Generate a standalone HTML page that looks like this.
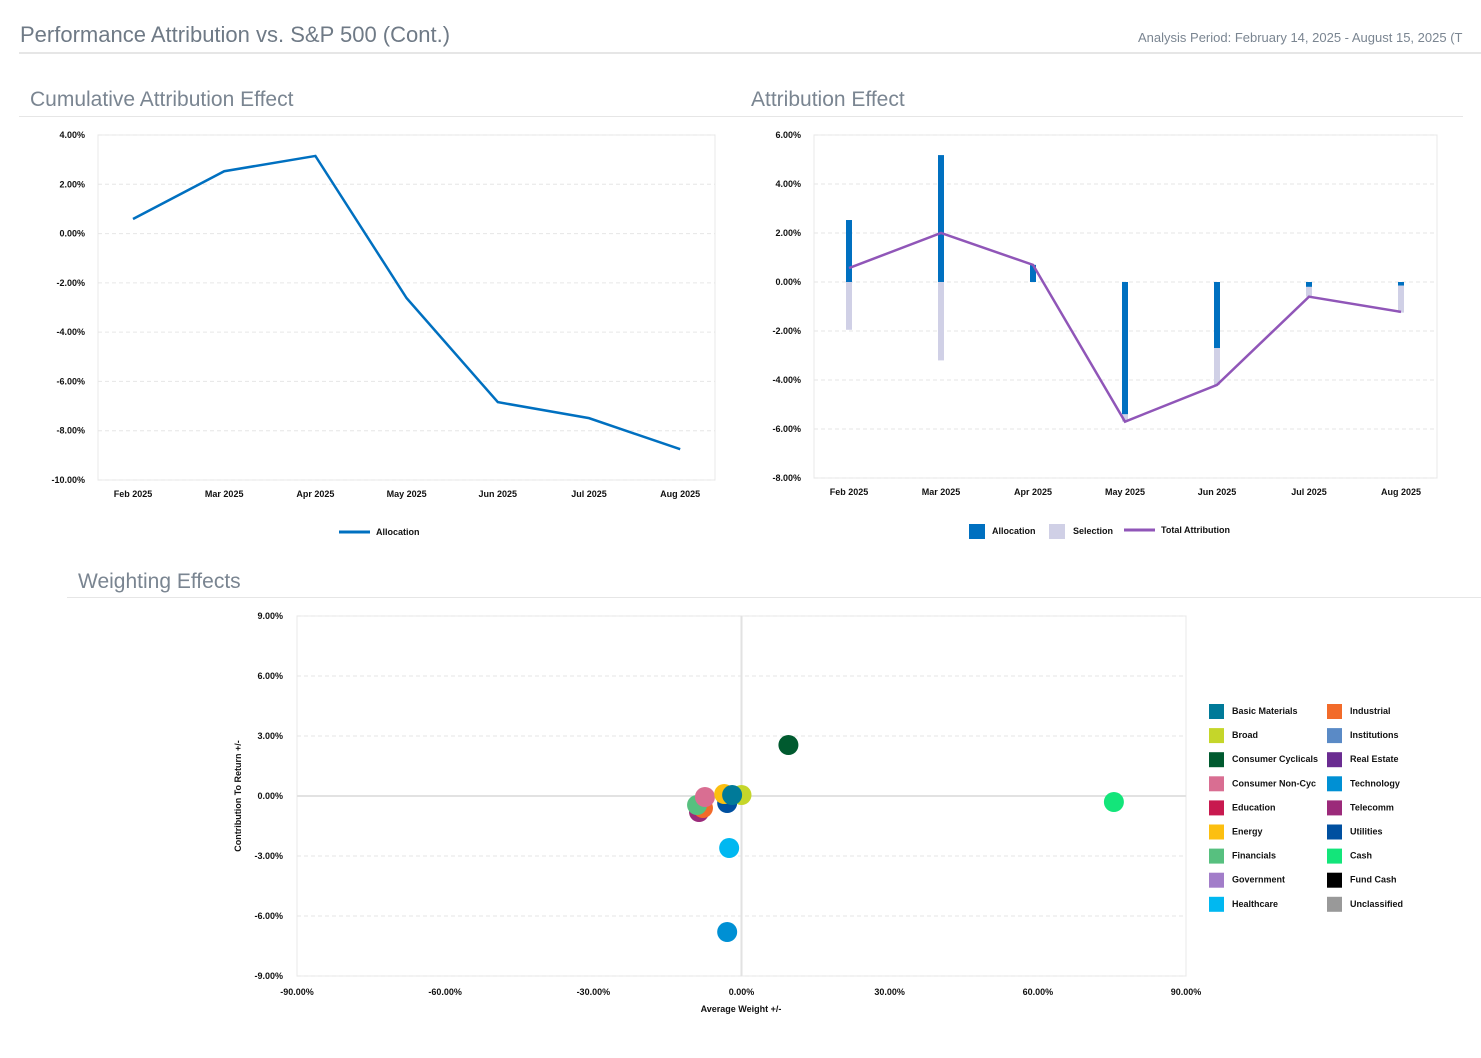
<!DOCTYPE html>
<html><head><meta charset="utf-8"><style>
body{margin:0;background:#fff;width:1481px;height:1053px;overflow:hidden;font-family:"Liberation Sans",sans-serif}
svg text{font-family:"Liberation Sans",sans-serif}
.t{font-size:9px;font-weight:bold;fill:#111}
</style></head><body>
<svg id="s" width="1481" height="1053" xmlns="http://www.w3.org/2000/svg">
<text x="20" y="42" font-size="22" fill="#6f7a86">Performance Attribution vs. S&amp;P 500 (Cont.)</text>
<text x="1138" y="42" font-size="13" fill="#7a8591">Analysis Period: February 14, 2025 - August 15, 2025 (T</text>
<rect x="19" y="52" width="1462" height="2" fill="#e6e6e6"/>
<text x="30" y="106" font-size="21" fill="#7a8591">Cumulative Attribution Effect</text>
<rect x="19" y="116" width="722" height="1" fill="#e6e6e6"/>
<text x="751" y="106" font-size="21" fill="#7a8591">Attribution Effect</text>
<rect x="741" y="116" width="722" height="1" fill="#e6e6e6"/>
<text x="78" y="588" font-size="21" fill="#7a8591">Weighting Effects</text>
<rect x="67" y="597" width="1414" height="1" fill="#e6e6e6"/>
<g id="c1"></g>
<g id="c2"></g>
<g id="c3"></g>
</svg>
<script>
const months=["Feb 2025","Mar 2025","Apr 2025","May 2025","Jun 2025","Jul 2025","Aug 2025"];
const cumAlloc=[0.59,2.53,3.15,-2.62,-6.84,-7.49,-8.75];
const cumTicks=[4,2,0,-2,-4,-6,-8,-10];
const allocation=[2.53,5.18,0.7,-5.4,-2.7,-0.2,-0.15];
const selection=[-1.95,-3.2,0,-0.3,-1.5,-0.4,-1.1];
const totalAttr=[0.57,2.0,0.7,-5.7,-4.2,-0.6,-1.22];
const attrTicks=[6,4,2,0,-2,-4,-6,-8];
const sectors=["Basic Materials","Broad","Consumer Cyclicals","Consumer Non-Cyc","Education","Energy","Financials","Government","Healthcare","Industrial","Institutions","Real Estate","Technology","Telecomm","Utilities","Cash","Fund Cash","Unclassified"];
const sectorColors=["#007a99","#c5d62a","#005a2f","#d96e92","#c8194f","#fcbf10","#57c07f","#a27dc9","#00b8f1","#f26b2a","#5a8ac6","#6a2c91","#0090d4","#9b2a7a","#0050a0","#13e57a","#000000","#999999"];
const weightX=[-1.9,0,9.5,-7.4,null,-3.5,-9,null,-2.5,-7.8,null,null,-2.9,-8.6,-2.9,75.4,null,null];
const contribY=[0.05,0.05,2.55,-0.05,null,0.1,-0.45,null,-2.6,-0.6,null,null,-6.8,-0.8,-0.35,-0.3,null,null];
const xTicks=[-90,-60,-30,0,30,60,90];
const yTicks=[9,6,3,0,-3,-6,-9];
const NS="http://www.w3.org/2000/svg";
function mk(p,tag,a,txt){const e=document.createElementNS(NS,tag);for(const k in a)e.setAttribute(k,a[k]);if(txt!==undefined)e.textContent=txt;p.appendChild(e);return e;}
function pct(v){return v.toFixed(2)+"%";}
// chart 1
(function(){
const g=document.getElementById('c1');const L=98,R=715,T=135,B=480;
const y=v=>T+(4-v)/14*(B-T);const x=i=>133+i*91.2;
const fr=mk(g,'rect',{x:L,y:T,width:R-L,height:B-T,fill:'none',stroke:'#e8e8e8'});

cumTicks.forEach(v=>{const l=mk(g,'line',{x1:L,x2:R,y1:y(v),y2:y(v),stroke:'#e6e6e6','stroke-dasharray':'4,3'});

const t=mk(g,'text',{x:85,y:y(v)+3,'text-anchor':'end',class:'t'},pct(v));
});
months.forEach((m,i)=>{const t=mk(g,'text',{x:x(i),y:497,'text-anchor':'middle',class:'t'},m);
});
const p=mk(g,'polyline',{points:cumAlloc.map((v,i)=>x(i)+','+y(v)).join(' '),fill:'none',stroke:'#0070c0','stroke-width':2.5});

const lg=mk(g,'line',{x1:339,x2:370,y1:532,y2:532,stroke:'#0070c0','stroke-width':3});

const lt=mk(g,'text',{x:376,y:535,class:'t'},'Allocation');

})();
// chart 2
(function(){
const g=document.getElementById('c2');const L=814,R=1437,T=135,B=478;
const y=v=>T+(6-v)/14*(B-T);const x=i=>849+i*92;
const fr=mk(g,'rect',{x:L,y:T,width:R-L,height:B-T,fill:'none',stroke:'#e8e8e8'});

attrTicks.forEach(v=>{const l=mk(g,'line',{x1:L,x2:R,y1:y(v),y2:y(v),stroke:'#e6e6e6','stroke-dasharray':'4,3'});

const t=mk(g,'text',{x:801,y:y(v)+3,'text-anchor':'end',class:'t'},pct(v));
});
months.forEach((m,i)=>{const t=mk(g,'text',{x:x(i),y:495,'text-anchor':'middle',class:'t'},m);

let pos=0,neg=0;
[[allocation[i],'#0070c0','allocation-bar'],[selection[i],'#d0d0e6','selection-bar']].forEach(([v,c,n])=>{
 if(!v)return;let y0,y1;
 if(v>0){y0=y(pos+v);y1=y(pos);pos+=v;}else{y0=y(neg);y1=y(neg+v);neg+=v;}
 const r=mk(g,'rect',{x:x(i)-3,y:y0,width:6,height:y1-y0,fill:c});
 });});
const p=mk(g,'polyline',{points:totalAttr.map((v,i)=>x(i)+','+y(v)).join(' '),fill:'none',stroke:'#9056b8','stroke-width':2.5});

const a=mk(g,'rect',{x:969,y:524,width:16,height:15,fill:'#0070c0'});

const at=mk(g,'text',{x:992,y:534,class:'t'},'Allocation');

const s=mk(g,'rect',{x:1049,y:524,width:16,height:15,fill:'#d0d0e6'});

const st=mk(g,'text',{x:1073,y:534,class:'t'},'Selection');

const tl=mk(g,'line',{x1:1124,x2:1155,y1:530,y2:530,stroke:'#9056b8','stroke-width':3});

const tt=mk(g,'text',{x:1161,y:533,class:'t'},'Total Attribution');

})();
// chart 3
(function(){
const g=document.getElementById('c3');const L=297,R=1186,T=616,B=976;
const x=v=>L+(v+90)/180*(R-L);const y=v=>T+(9-v)/18*(B-T);
const fr=mk(g,'rect',{x:L,y:T,width:R-L,height:B-T,fill:'none',stroke:'#e8e8e8'});

yTicks.forEach(v=>{const l=mk(g,'line',{x1:L,x2:R,y1:y(v),y2:y(v),stroke:v===0?'#e2e2e2':'#e6e6e6','stroke-width':v===0?2:1,'stroke-dasharray':v===0?'':'4,3'});

const t=mk(g,'text',{x:283,y:y(v)+3,'text-anchor':'end',class:'t'},pct(v));
});
const zl=mk(g,'line',{x1:x(0),x2:x(0),y1:T,y2:B,stroke:'#e2e2e2','stroke-width':2});

xTicks.forEach(v=>{const t=mk(g,'text',{x:x(v),y:995,'text-anchor':'middle',class:'t'},pct(v));
});
const xt=mk(g,'text',{x:741,y:1012,'text-anchor':'middle',class:'t'},'Average Weight +/-');

const yt=mk(g,'text',{x:0,y:0,'text-anchor':'middle',class:'t',transform:'translate(241,796) rotate(-90)'},'Contribution To Return +/-');

const order=[13,9,6,3,14,5,1,0,2,15,8,12];
order.forEach(i=>{if(weightX[i]===null)return;
 const c=mk(g,'circle',{cx:x(weightX[i]),cy:y(contribY[i]),r:10,fill:sectorColors[i]});
 
 });
sectors.forEach((s,i)=>{const col=i<9?0:1,row=i%9;const lx=1209+col*118,ly=704+row*24.1;
 const r=mk(g,'rect',{x:lx,y:ly,width:15,height:15,fill:sectorColors[i]});
 
 const t=mk(g,'text',{x:lx+23,y:ly+10,class:'t'},s);
 });
})();
</script>
</body></html>
